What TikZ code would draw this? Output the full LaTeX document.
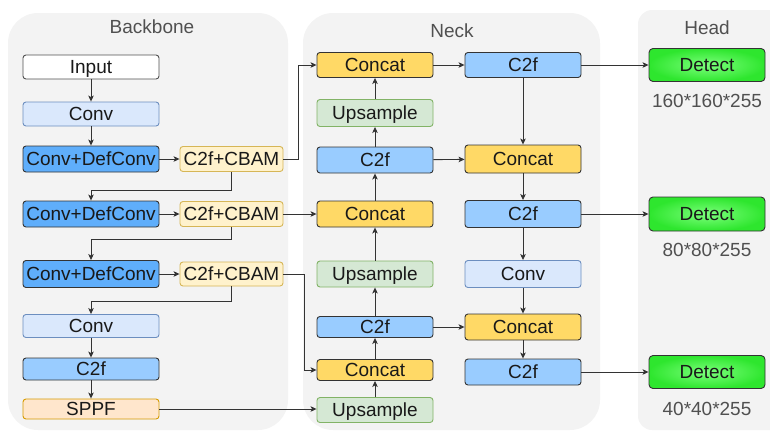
\documentclass[tikz,border=0pt]{standalone}
\usepackage{fontspec}
\setmainfont{Liberation Sans}
\usetikzlibrary{arrows.meta}

\definecolor{panelbg}{HTML}{F3F3F3}
\definecolor{edgecol}{HTML}{333333}
\definecolor{titlecol}{HTML}{505050}
\definecolor{convfill}{HTML}{DAE8FC}
\definecolor{convdraw}{HTML}{6C8EBF}
\definecolor{dcfill}{HTML}{5FAEFB}
\definecolor{cbfill}{HTML}{FFF2CC}
\definecolor{cbdraw}{HTML}{D6B656}
\definecolor{cffill}{HTML}{99CCFF}
\definecolor{spfill}{HTML}{FFE6CC}
\definecolor{spdraw}{HTML}{D79B00}
\definecolor{catfill}{HTML}{FFD966}
\definecolor{upfill}{HTML}{D5E8D4}
\definecolor{updraw}{HTML}{82B366}
\definecolor{detin}{HTML}{7CFF7C}
\definecolor{detout}{HTML}{2EE62E}

\tikzset{
  blk/.style={rectangle, rounded corners=3pt, inner sep=0pt, line width=0.9pt,
    text height=13.6pt, text depth=0pt, text=black!90},
  bbw/.style={blk, minimum width=136pt},
  ncw/.style={blk, minimum width=116pt},
  cbw/.style={blk, minimum width=103pt},
  inputbox/.style={draw=titlecol, fill=white},
  convbox/.style={draw=convdraw, fill=convfill},
  dcbox/.style={draw=edgecol, fill=dcfill},
  cbambox/.style={draw=cbdraw, fill=cbfill},
  cfbox/.style={draw=edgecol, fill=cffill},
  sppfbox/.style={draw=spdraw, fill=spfill},
  catbox/.style={draw=edgecol, fill=catfill},
  upbox/.style={draw=updraw, fill=upfill},
  detbox/.style={blk, minimum width=116pt, draw=edgecol, shade,
    inner color=detin, outer color=detout, rounded corners=4pt},
  ttl/.style={text=titlecol},
  arr/.style={draw=edgecol, line width=0.9pt,
    -{Stealth[length=6pt, width=5.5pt, inset=1.5pt]}},
}

\begin{document}
\begin{tikzpicture}[x=1pt, y=-1pt, font=\fontsize{19}{22}\selectfont]
\useasboundingbox (0,0) rectangle (770,432);
\clip (0,0) rectangle (770,432);

% group panels
\fill[panelbg, rounded corners=30pt] (8,13) rectangle (288,430);
\fill[panelbg, rounded corners=30pt] (303,13) rectangle (600,430);
\fill[panelbg, rounded corners=14pt] (638,10) rectangle (800,430);

\node[ttl] (tb) at (152,27) {Backbone};
\node[ttl] (tn) at (452,31) {Neck};
\node[ttl] (th) at (707,28) {Head};

% backbone
\node[bbw, inputbox, minimum height=24pt] (in) at (91,67) {Input};
\node[bbw, convbox, minimum height=24pt] (conv1) at (91,114) {Conv};
\node[bbw, dcbox, minimum height=26pt] (cdc1) at (91,159) {Conv+DefConv};
\node[cbw, cbambox, minimum height=25pt] (cb1) at (231.5,159) {C2f+CBAM};
\node[bbw, dcbox, minimum height=26pt] (cdc2) at (91,214) {Conv+DefConv};
\node[cbw, cbambox, minimum height=25pt] (cb2) at (231.5,214) {C2f+CBAM};
\node[bbw, dcbox, minimum height=27pt] (cdc3) at (91,274) {Conv+DefConv};
\node[cbw, cbambox, minimum height=24pt] (cb3) at (231.5,274) {C2f+CBAM};
\node[bbw, convbox, minimum height=23pt] (conv2) at (91,326) {Conv};
\node[bbw, cfbox, minimum height=22pt] (c2fb) at (91,369) {C2f};
\node[bbw, sppfbox, minimum height=20pt] (sppf) at (91,409) {SPPF};

% neck, upward path
\node[ncw, catbox, minimum height=25pt] (cat1) at (375,65) {Concat};
\node[ncw, upbox, minimum height=27pt] (up1) at (375,113) {Upsample};
\node[ncw, cfbox, minimum height=26pt] (c2f1) at (375,160) {C2f};
\node[ncw, catbox, minimum height=26pt] (cat2) at (375,214) {Concat};
\node[ncw, upbox, minimum height=26pt] (up2) at (375,274) {Upsample};
\node[ncw, cfbox, minimum height=21pt] (c2f2) at (375,327) {C2f};
\node[ncw, catbox, minimum height=21pt] (cat3) at (375,370) {Concat};
\node[ncw, upbox, minimum height=25pt] (up3) at (375,410) {Upsample};

% neck, downward path
\node[ncw, cfbox, minimum height=25pt] (c2f3) at (523,65) {C2f};
\node[ncw, catbox, minimum height=28pt] (cat4) at (523,159) {Concat};
\node[ncw, cfbox, minimum height=27pt] (c2f4) at (523,214) {C2f};
\node[ncw, convbox, minimum height=27pt] (conv3) at (523,274) {Conv};
\node[ncw, catbox, minimum height=26pt] (cat5) at (523,327) {Concat};
\node[ncw, cfbox, minimum height=26pt] (c2f5) at (523,372) {C2f};

% head
\node[detbox, minimum height=33pt] (det1) at (707,65) {Detect};
\node[detbox, minimum height=34pt] (det2) at (707,214) {Detect};
\node[detbox, minimum height=33pt] (det3) at (707,372) {Detect};
\node[ttl] (s1) at (707,101) {160*160*255};
\node[ttl] (s2) at (707,250) {80*80*255};
\node[ttl] (s3) at (707,409) {40*40*255};

% backbone connectors
\draw[arr] (in) -- (conv1);
\draw[arr] (conv1) -- (cdc1);
\draw[arr] (cdc1) -- (cb1);
\draw[arr] (cb1.south) -- ++(0,18.5) -| (cdc2.north);
\draw[arr] (cdc2) -- (cb2);
\draw[arr] (cb2.south) -- ++(0,12.5) -| (cdc3.north);
\draw[arr] (cdc3) -- (cb3);
\draw[arr] (cb3.south) -- ++(0,15) -| (conv2.north);
\draw[arr] (conv2) -- (c2fb);
\draw[arr] (c2fb) -- (sppf);

% backbone to neck
\draw[arr] (cb1.east) -- ++(15,0) |- (cat1.west);
\draw[arr] (cb2.east) -- (cat2.west);
\draw[arr] (cb3.east) -- ++(21,0) |- (cat3.west);
\draw[arr] (sppf.east) -- (sppf.east -| up3.west);

% neck connectors
\draw[arr] (up3) -- (cat3);
\draw[arr] (cat3) -- (c2f2);
\draw[arr] (c2f2) -- (up2);
\draw[arr] (up2) -- (cat2);
\draw[arr] (cat2) -- (c2f1);
\draw[arr] (c2f1) -- (up1);
\draw[arr] (up1) -- (cat1);
\draw[arr] (cat1) -- (c2f3);
\draw[arr] (c2f1) -- (cat4);
\draw[arr] (c2f2) -- (cat5);
\draw[arr] (c2f3) -- (cat4);
\draw[arr] (cat4) -- (c2f4);
\draw[arr] (c2f4) -- (conv3);
\draw[arr] (conv3) -- (cat5);
\draw[arr] (cat5) -- (c2f5);

% neck to head
\draw[arr] (c2f3) -- (det1);
\draw[arr] (c2f4) -- (det2);
\draw[arr] (c2f5) -- (det3);
\end{tikzpicture}
\end{document}
